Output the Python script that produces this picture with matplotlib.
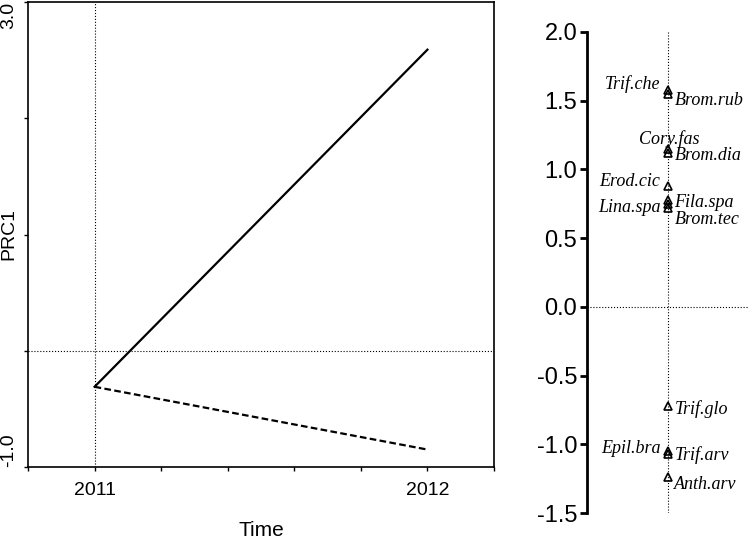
import numpy as np
import matplotlib.pyplot as plt

# left panel: principal response curves
years = [2011, 2012]
prc_solid = [-0.31, 2.59]
prc_dashed = [-0.31, -0.85]

# right panel: species weights
species = ['Trif.che', 'Brom.rub', 'Cory.fas', 'Brom.dia', 'Erod.cic', 'Fila.spa',
           'Lina.spa', 'Brom.tec', 'Trif.glo', 'Epil.bra', 'Trif.arv', 'Anth.arv']
weights = [1.58, 1.55, 1.15, 1.12, 0.88, 0.78, 0.75, 0.72, -0.72, -1.05, -1.07, -1.24]
# label offsets in points (dx, dy) and alignment
offsets = [(-5, 4, 'right'), (5, -5, 'left'), (1, 7, 'center'), (5, -2, 'left'),
           (-5, 3, 'right'), (5, -2, 'left'), (-5, -3, 'right'), (5, -8, 'left'),
           (5, -2, 'left'), (-5, 2, 'right'), (5, -1, 'left'), (5, -5, 'left')]

plt.rcParams['font.family'] = ['Liberation Sans', 'DejaVu Sans']

fig = plt.figure(figsize=(7.48, 5.40), dpi=100)

ax = fig.add_axes([28/748, 73/540, 466/748, 465/540])
ax.plot(years, prc_solid, 'k-', lw=1.6)
ax.plot(years, prc_dashed, 'k--', lw=1.6, dashes=(3, 1.5))
ax.axvline(2011, color='k', ls=':', lw=0.8)
ax.axhline(0, color='k', ls=':', lw=0.8)
ax.set_xlim(2010.8, 2012.2)
ax.set_ylim(-1, 3)
xt = np.round(np.arange(2010.8, 2012.21, 0.2), 1)
ax.set_xticks(xt)
ax.set_xticklabels(['2011' if abs(v - 2011) < 1e-6 else '2012' if abs(v - 2012) < 1e-6 else '' for v in xt],
                   fontsize=14)
ax.set_yticks([-1, 0, 1, 2, 3])
ax.set_yticklabels(['-1.0', '', '', '', '3.0'], fontsize=14, rotation=90)
labs = ax.get_yticklabels()
labs[0].set_va('bottom')
labs[4].set_va('top')
ax.tick_params(length=3, width=1)
ax.tick_params(axis='y', pad=5)
ax.tick_params(axis='x', pad=8)
for s in ax.spines.values():
    s.set_linewidth(1.2)
ax.set_ylabel('PRC1', fontsize=14)
ax.yaxis.set_label_coords(-0.022, 0.5)
ax.set_xlabel('Time', fontsize=15)
ax.xaxis.set_label_coords(0.5, -0.116)

ax2 = fig.add_axes([587/748, 27/540, 161/748, 481/540])
ax2.set_xlim(-1, 1)
ax2.set_ylim(-1.5, 2.0)
ax2.axvline(0, color='k', ls=':', lw=0.8)
ax2.axhline(0, color='k', ls=':', lw=0.8)
ax2.plot(np.zeros(len(weights)), weights, '^', mfc='none', mec='k', ms=6, mew=1.2)
for name, w, (dx, dy, ha) in zip(species, weights, offsets):
    ax2.annotate(name, (0, w), xytext=(dx, dy), textcoords='offset points',
                 ha=ha, va='center', fontsize=13, style='italic',
                 family=['Liberation Serif', 'DejaVu Serif'])
ax2.set_yticks([-1.5, -1.0, -0.5, 0.0, 0.5, 1.0, 1.5, 2.0])
ax2.set_yticklabels(['-1.5', '-1.0', '-0.5', '0.0', '0.5', '1.0', '1.5', '2.0'], fontsize=17)
ax2.set_xticks([])
for k in ['top', 'right', 'bottom']:
    ax2.spines[k].set_visible(False)
ax2.spines['left'].set_linewidth(2)
ax2.tick_params(axis='y', length=5, width=2, pad=2)

fig.savefig('out.png', dpi=100)
